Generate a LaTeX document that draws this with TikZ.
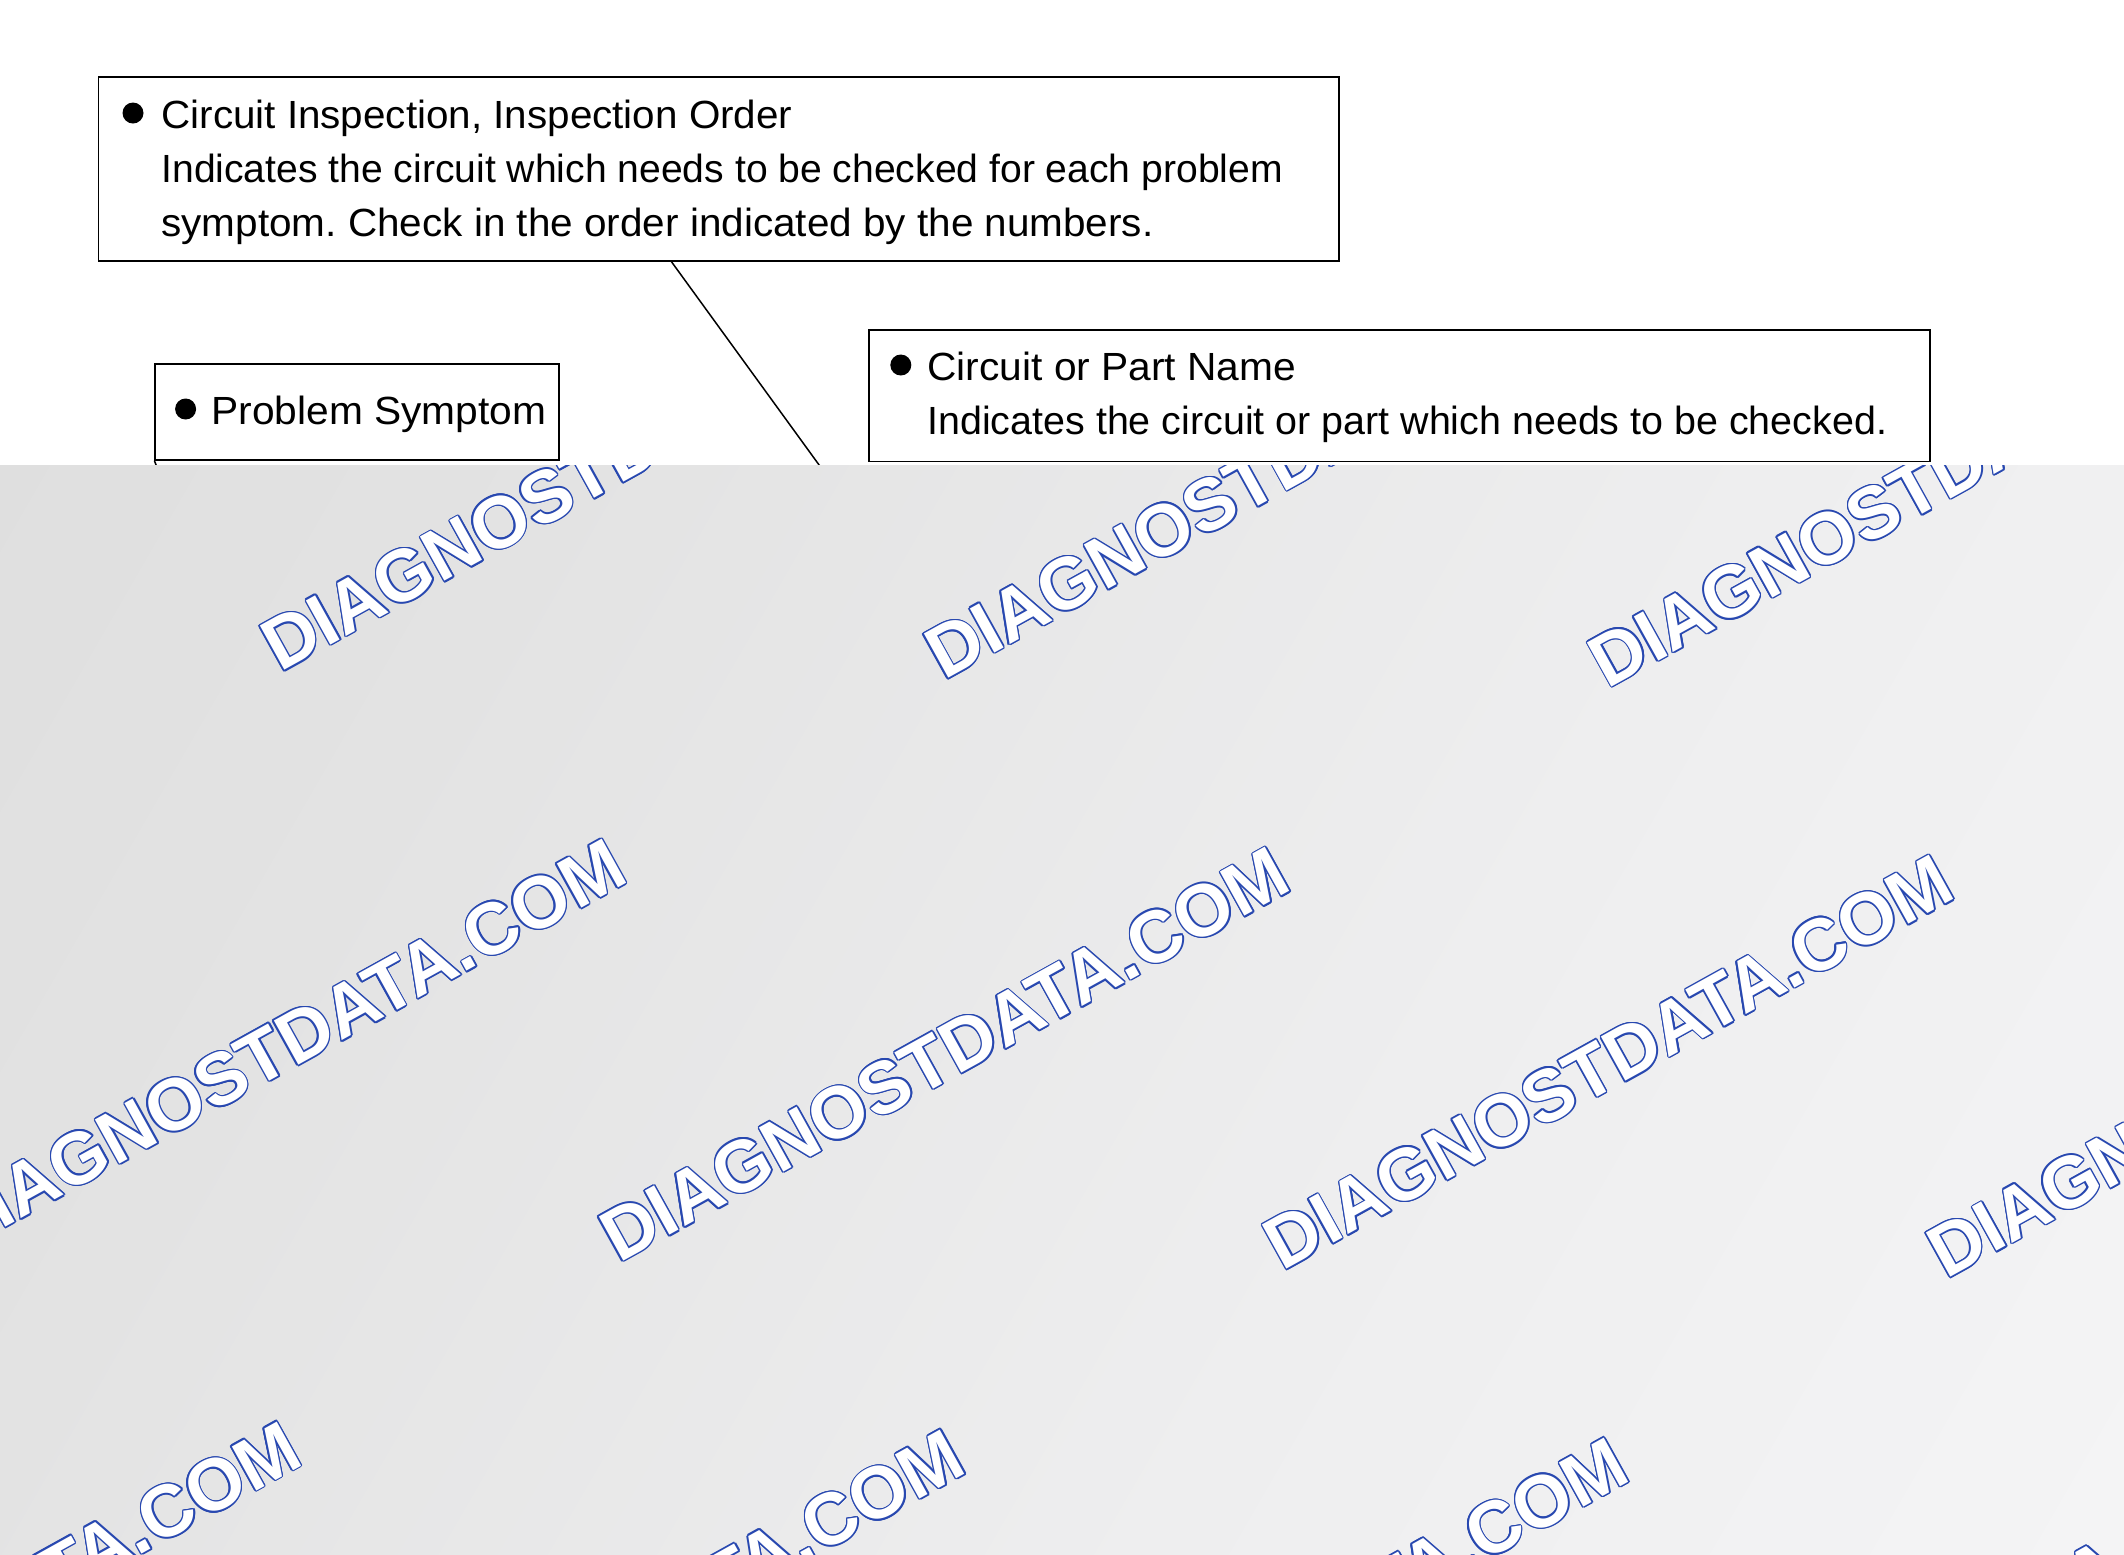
\documentclass[tikz,border=0pt]{standalone}
\usepackage{fontspec}
\setmainfont{Liberation Sans}
\usetikzlibrary{calc}
\frenchspacing
\definecolor{wmblue}{RGB}{40,72,176}
\definecolor{bgA}{HTML}{DBDBDB}
\definecolor{bgB}{HTML}{E3E3E3}
\definecolor{bgC}{HTML}{EEEEEF}
\definecolor{bgD}{HTML}{F8F8F9}
\pgfdeclarehorizontalshading{bgsh}{100bp}{color(0bp)=(bgA); color(30bp)=(bgB); color(60bp)=(bgC); color(100bp)=(bgD)}
\begin{document}
\begin{tikzpicture}[x=0.5pt,y=-0.5pt,
  box/.style={draw=black, line width=0.75pt, anchor=north west, inner sep=0pt},
  bul/.style={circle, fill=black, inner sep=0pt, minimum size=10.5pt},
  txt/.style={anchor=base west, inner sep=0pt, font=\fontsize{19.65pt}{27pt}\selectfont},
  lead/.style={draw=black, line width=0.75pt},
  wm/.style={anchor=base west, inner sep=0pt, rotate=29, font=\fontsize{36.7pt}{40pt}\selectfont\bfseries}]
\useasboundingbox (0,0) rectangle (2124,1554);
\fill[white] (0,0) rectangle (2124,1554);

% boxes
\node[box, minimum width=620.25pt, minimum height=92pt] (box1) at (97.5,76) {};
\node[box, minimum width=201.8pt, minimum height=48.1pt] (box2) at (154.4,363) {};
\node[box, minimum width=530.5pt, minimum height=65.8pt] (box3) at (868,329) {};

% box 1 text
\node[bul] (b1) at (133,113) {};
\node[txt, xscale=1.028] (t1a) at (161,128) {Circuit Inspection, Inspection Order};
\node[txt, xscale=0.995] (t1b) at (161,182) {Indicates the circuit which needs to be checked for each problem};
\node[txt, xscale=1.03] (t1c) at (161,236) {symptom. Check in the order indicated by the numbers.};

% box 2 text
\node[bul] (b2) at (185.6,409) {};
\node[txt, xscale=1.036] (t2a) at (211,424) {Problem Symptom};

% box 3 text
\node[bul] (b3) at (900.8,365) {};
\node[txt, xscale=1.036] (t3a) at (927,380) {Circuit or Part Name};
\node[txt, xscale=1.003] (t3b) at (927,434) {Indicates the circuit or part which needs to be checked.};

% leader lines (continue under the grey overlay)
\coordinate (l1end) at (830,480);
\coordinate (l2end) at (162,480);
\draw[lead] ($(box1.south west)!0.462!(box1.south east)$) -- (l1end);
\draw[lead] (box2.south west) -- (l2end);

% grey overlay
\shade[shading=bgsh, shading angle=-30] (0,465) rectangle (2124,1554);

% watermarks
\begin{scope}
\clip (0,465) rectangle (2124,1554);
\foreach \i in {-1,...,4}{
 \foreach \j in {0,...,2}{
  \pgfmathsetmacro\wx{280+663.7*\i-325*\j}
  \pgfmathsetmacro\wy{673+8.1*\i+582.5*\j}
  \foreach \a in {0,30,...,330}{
    \node[wm,text=wmblue] (wmo-\i-\j-\a) at ($(\wx,\wy)+(\a:1.5)$) {DIAGNOSTDATA.COM};
  }
  \node[wm,text=white] (wmi-\i-\j) at (\wx,\wy) {DIAGNOSTDATA.COM};
 }}
\end{scope}
\end{tikzpicture}
\end{document}
